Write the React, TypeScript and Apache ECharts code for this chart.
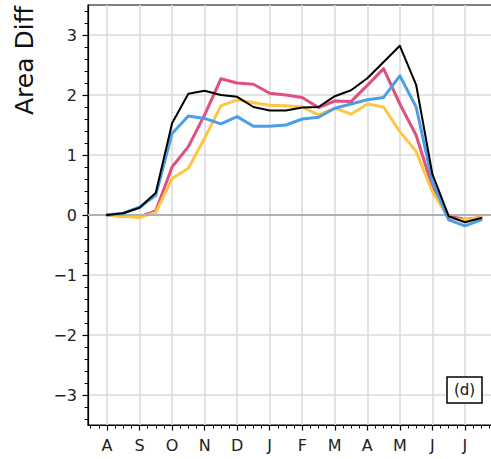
import React, { useEffect, useRef } from "react";
import * as echarts from "echarts";

const monthLabels = ["A", "S", "O", "N", "D", "J", "F", "M", "A", "M", "J", "J"];
const monthPositions = [0, 1, 2, 3, 4, 5, 6, 7, 8, 9, 10, 11];
const yTickValues = [-3, -2, -1, 0, 1, 2, 3];
const halfMonthPositions = [
  0, 0.5, 1, 1.5, 2, 2.5, 3, 3.5, 4, 4.5, 5, 5.5, 6, 6.5, 7, 7.5, 8, 8.5, 9,
  9.5, 10, 10.5, 11, 11.5,
];

const blackValues = [
  0.0, 0.03, 0.12, 0.37, 1.53, 2.02, 2.07, 2.0, 1.97, 1.8, 1.74, 1.74, 1.79,
  1.8, 1.98, 2.08, 2.28, 2.55, 2.82, 2.17, 0.68, -0.02, -0.12, -0.05,
];
const blueValues = [
  0.0, 0.03, 0.13, 0.33, 1.36, 1.65, 1.61, 1.52, 1.64, 1.48, 1.48, 1.5, 1.6,
  1.63, 1.78, 1.85, 1.92, 1.96, 2.32, 1.8, 0.56, -0.08, -0.18, -0.08,
];
const pinkValues = [
  0.0, -0.02, -0.03, 0.07, 0.8, 1.14, 1.67, 2.27, 2.2, 2.18, 2.03, 2.0, 1.96,
  1.79, 1.9, 1.89, 2.16, 2.44, 1.85, 1.33, 0.47, -0.02, -0.07, -0.04,
];
const yellowValues = [
  0.0, -0.02, -0.04, 0.04, 0.61, 0.78, 1.28, 1.82, 1.92, 1.87, 1.83, 1.82, 1.8,
  1.67, 1.78, 1.68, 1.85, 1.8, 1.39, 1.06, 0.39, -0.06, -0.08, -0.04,
];

const FONT = "DejaVu Sans";
const X_MIN = -0.584;
const X_MAX = 12.6;

function pairs(values: number[]) {
  return values.map((v, i) => [halfMonthPositions[i], v]);
}

export default function App() {
  const ref = useRef<HTMLDivElement>(null);
  useEffect(() => {
    if (!ref.current) return;
    const chart = echarts.init(ref.current, null, { renderer: "svg" });

    const xMinor: number[] = [];
    for (let k = -2; k <= 50; k++) {
      const v = k * 0.25;
      if (k % 4 !== 0 && v > X_MIN && v < X_MAX) xMinor.push(v);
    }
    const yMinor: number[] = [];
    for (let k = -17; k <= 17; k++) {
      if (k % 5 !== 0) yMinor.push(Math.round(k * 0.2 * 100) / 100);
    }

    const mkLine = (name: string, values: number[], color: string, width: number, z: number) => ({
      name,
      type: "line",
      data: pairs(values),
      symbol: "none",
      z,
      lineStyle: { color, width, join: "round", cap: "round" },
      itemStyle: { color },
    });

    chart.setOption({
      animation: false,
      backgroundColor: "#ffffff",
      textStyle: { fontFamily: FONT },
      grid: {
        left: 88,
        top: 5,
        height: 420,
        width: 429,
        show: true,
        borderColor: "#000",
        borderWidth: 1.2,
        backgroundColor: "transparent",
      },
      xAxis: [
        {
          type: "value",
          min: X_MIN,
          max: X_MAX,
          position: "bottom",
          axisLine: { show: true, onZero: false, lineStyle: { color: "#000", width: 1.2 } },
          axisTick: {
            show: true,
            customValues: monthPositions,
            length: 5.5,
            lineStyle: { color: "#000", width: 1.2 },
          },
          axisLabel: {
            customValues: monthPositions,
            formatter: (v: number) => monthLabels[Math.round(v)] ?? "",
            fontFamily: FONT,
            fontSize: 16,
            color: "#222",
            margin: 12,
          },
          splitLine: { show: true, lineStyle: { color: "#dadada", width: 1.5 } },
        },
        {
          type: "value",
          min: X_MIN,
          max: X_MAX,
          position: "bottom",
          axisLine: { show: false, onZero: false },
          axisTick: {
            show: true,
            customValues: xMinor,
            length: 3.5,
            lineStyle: { color: "#000", width: 1 },
          },
          axisLabel: { show: false },
          splitLine: { show: false },
        },
      ],
      yAxis: [
        {
          type: "value",
          min: -3.5,
          max: 3.5,
          axisLine: { show: true, onZero: false, lineStyle: { color: "#000", width: 1.2 } },
          axisTick: {
            show: true,
            customValues: yTickValues,
            length: 5.5,
            lineStyle: { color: "#000", width: 1.2 },
          },
          axisLabel: {
            customValues: yTickValues,
            formatter: (v: number) => (v < 0 ? "\u2212" + Math.abs(v) : String(v)),
            fontFamily: FONT,
            fontSize: 16,
            color: "#222",
            margin: 11,
          },
          splitLine: { show: true, lineStyle: { color: "#dadada", width: 1.5 } },
        },
        {
          type: "value",
          min: -3.5,
          max: 3.5,
          position: "left",
          axisLine: { show: false, onZero: false },
          axisTick: {
            show: true,
            customValues: yMinor,
            length: 3.5,
            lineStyle: { color: "#000", width: 1 },
          },
          axisLabel: { show: false },
          splitLine: { show: false },
        },
      ],
      series: [
        {
          type: "line",
          data: [],
          z: 1,
          silent: true,
          markLine: {
            silent: true,
            symbol: "none",
            label: { show: false },
            lineStyle: { color: "#b0b0b0", width: 2, type: "solid" },
            data: [{ yAxis: 0 }],
          },
        },
        mkLine("pink", pinkValues, "#df4f82", 3, 3),
        mkLine("yellow", yellowValues, "#fdc743", 3, 4),
        mkLine("blue", blueValues, "#4c9fe6", 3, 5),
        mkLine("black", blackValues, "#000000", 2, 6),
      ],
      graphic: [
        {
          type: "text",
          x: 24,
          y: 115,
          rotation: Math.PI / 2,
          style: {
            text: "Area Diff",
            fontFamily: FONT,
            fontSize: 25,
            fill: "#111",
            align: "left",
            verticalAlign: "middle",
          },
        },
        {
          type: "rect",
          shape: { x: 447, y: 377, width: 35, height: 26 },
          style: { fill: "#fff", stroke: "#000", lineWidth: 1.5 },
          z: 100,
        },
        {
          type: "text",
          x: 464.5,
          y: 390,
          z: 101,
          style: {
            text: "(d)",
            fontFamily: FONT,
            fontSize: 15,
            fill: "#111",
            align: "center",
            verticalAlign: "middle",
          },
        },
      ],
    });
    return () => chart.dispose();
  }, []);
  return (
    <div style={{ position: "absolute", left: 0, top: 0, width: 491, height: 459, overflow: "hidden" }}>
      <div ref={ref} style={{ width: 540, height: 459 }} />
    </div>
  );
}
